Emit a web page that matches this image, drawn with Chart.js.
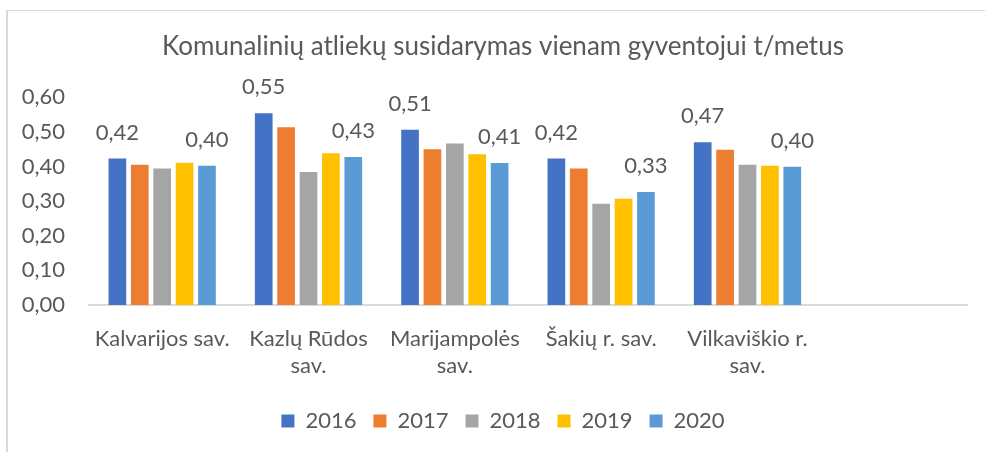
<!DOCTYPE html>
<html>
<head>
<meta charset="utf-8">
<script src="https://cdn.jsdelivr.net/npm/chart.js@4.4.1/dist/chart.umd.min.js"></script>
<style>
  html, body { margin: 0; padding: 0; background: #fff; overflow: hidden; }
  #wrap { position: relative; width: 985px; height: 452px; }
  #frame { position: absolute; left: 6px; top: 10px; width: 1000px; height: 500px;
           border-left: 2px solid #d9d9d9; border-top: 1px solid #d9d9d9; pointer-events: none; }
</style>
</head>
<body>
<div id="wrap">
  <canvas id="chart" width="985" height="452"></canvas>
  <div id="frame"></div>
</div>
<script>
// categories (last one is an empty slot, as in the original)
const categories = [
    ['Kalvarijos sav.'],
    ['Kazlų Rūdos', 'sav.'],
    ['Marijampolės', 'sav.'],
    ['Šakių r. sav.'],
    ['Vilkaviškio r.', 'sav.'],
    ['']
];
const years = ['2016', '2017', '2018', '2019', '2020'];
const values2016 = [0.423, 0.554, 0.506, 0.423, 0.470];
const values2017 = [0.405, 0.513, 0.450, 0.394, 0.448];
const values2018 = [0.394, 0.384, 0.466, 0.292, 0.405];
const values2019 = [0.411, 0.438, 0.435, 0.307, 0.402];
const values2020 = [0.402, 0.427, 0.410, 0.326, 0.399];
const yTicks = [0, 0.1, 0.2, 0.3, 0.4, 0.5, 0.6];

const colors = ['#4472C4', '#ED7D31', '#A5A5A5', '#FFC000', '#5B9BD5'];
const labelledSeries = [0, 4];   // only 2016 and 2020 carry value labels
const textColor = '#595959';
const fontFamily = 'Lato, "Open Sans", sans-serif';

function fmt(v) {
    return v.toFixed(2).replace('.', ',');
}

const valueLabels = {
    id: 'valueLabels',
    afterLayout(chart) {
        // let the y tick labels run into the left padding without being clipped
        chart.scales.y.left = 0;
    },
    afterDatasetsDraw(chart) {
        const ctx = chart.ctx;
        ctx.save();
        ctx.font = '22px ' + fontFamily;
        ctx.fillStyle = textColor;
        ctx.textAlign = 'center';
        ctx.textBaseline = 'alphabetic';
        labelledSeries.forEach(i => {
            const meta = chart.getDatasetMeta(i);
            meta.data.forEach((bar, j) => {
                const v = chart.data.datasets[i].data[j];
                if (v == null) return;
                ctx.fillText(fmt(v), bar.x, bar.y - 19);
            });
        });
        ctx.restore();
    }
};

const series = [values2016, values2017, values2018, values2019, values2020];

new Chart(document.getElementById('chart').getContext('2d'), {
    type: 'bar',
    data: {
        labels: categories,
        datasets: years.map((y, i) => ({
            label: y,
            data: series[i],
            backgroundColor: colors[i],
            borderWidth: 0,
            categoryPercentage: 0.765,
            barPercentage: 0.79
        }))
    },
    options: {
        responsive: false,
        animation: false,
        layout: { padding: { left: 39, right: 18, top: 0, bottom: 10 } },
        plugins: {
            tooltip: { enabled: false },
            title: {
                display: true,
                text: 'Komunalinių atliekų susidarymas vienam gyventojui t/metus',
                color: textColor,
                font: { family: fontFamily, size: 26, weight: 'normal' },
                padding: { top: 31, bottom: 35 }
            },
            legend: {
                position: 'bottom',
                labels: {
                    color: textColor,
                    font: { family: fontFamily, size: 22 },
                    boxWidth: 13,
                    boxHeight: 13,
                    padding: 17
                }
            }
        },
        scales: {
            x: {
                grid: { display: false, drawTicks: false },
                border: { display: true, color: '#d9d9d9', width: 2 },
                ticks: {
                    color: textColor,
                    font: { family: fontFamily, size: 22, lineHeight: 1.25 },
                    padding: 20,
                    maxRotation: 0,
                    autoSkip: false
                },
                afterFit(scale) { scale.height = 88; }
            },
            y: {
                min: 0,
                max: 0.6,
                afterBuildTicks(scale) { scale.ticks = yTicks.map(v => ({ value: v })); },
                grid: { display: false, drawTicks: false },
                border: { display: false },
                ticks: {
                    color: textColor,
                    font: { family: fontFamily, size: 22 },
                    padding: 24,
                    callback: v => fmt(v)
                },
                afterFit(scale) { scale.width = 50; }
            }
        }
    },
    plugins: [valueLabels]
});
</script>
</body>
</html>
